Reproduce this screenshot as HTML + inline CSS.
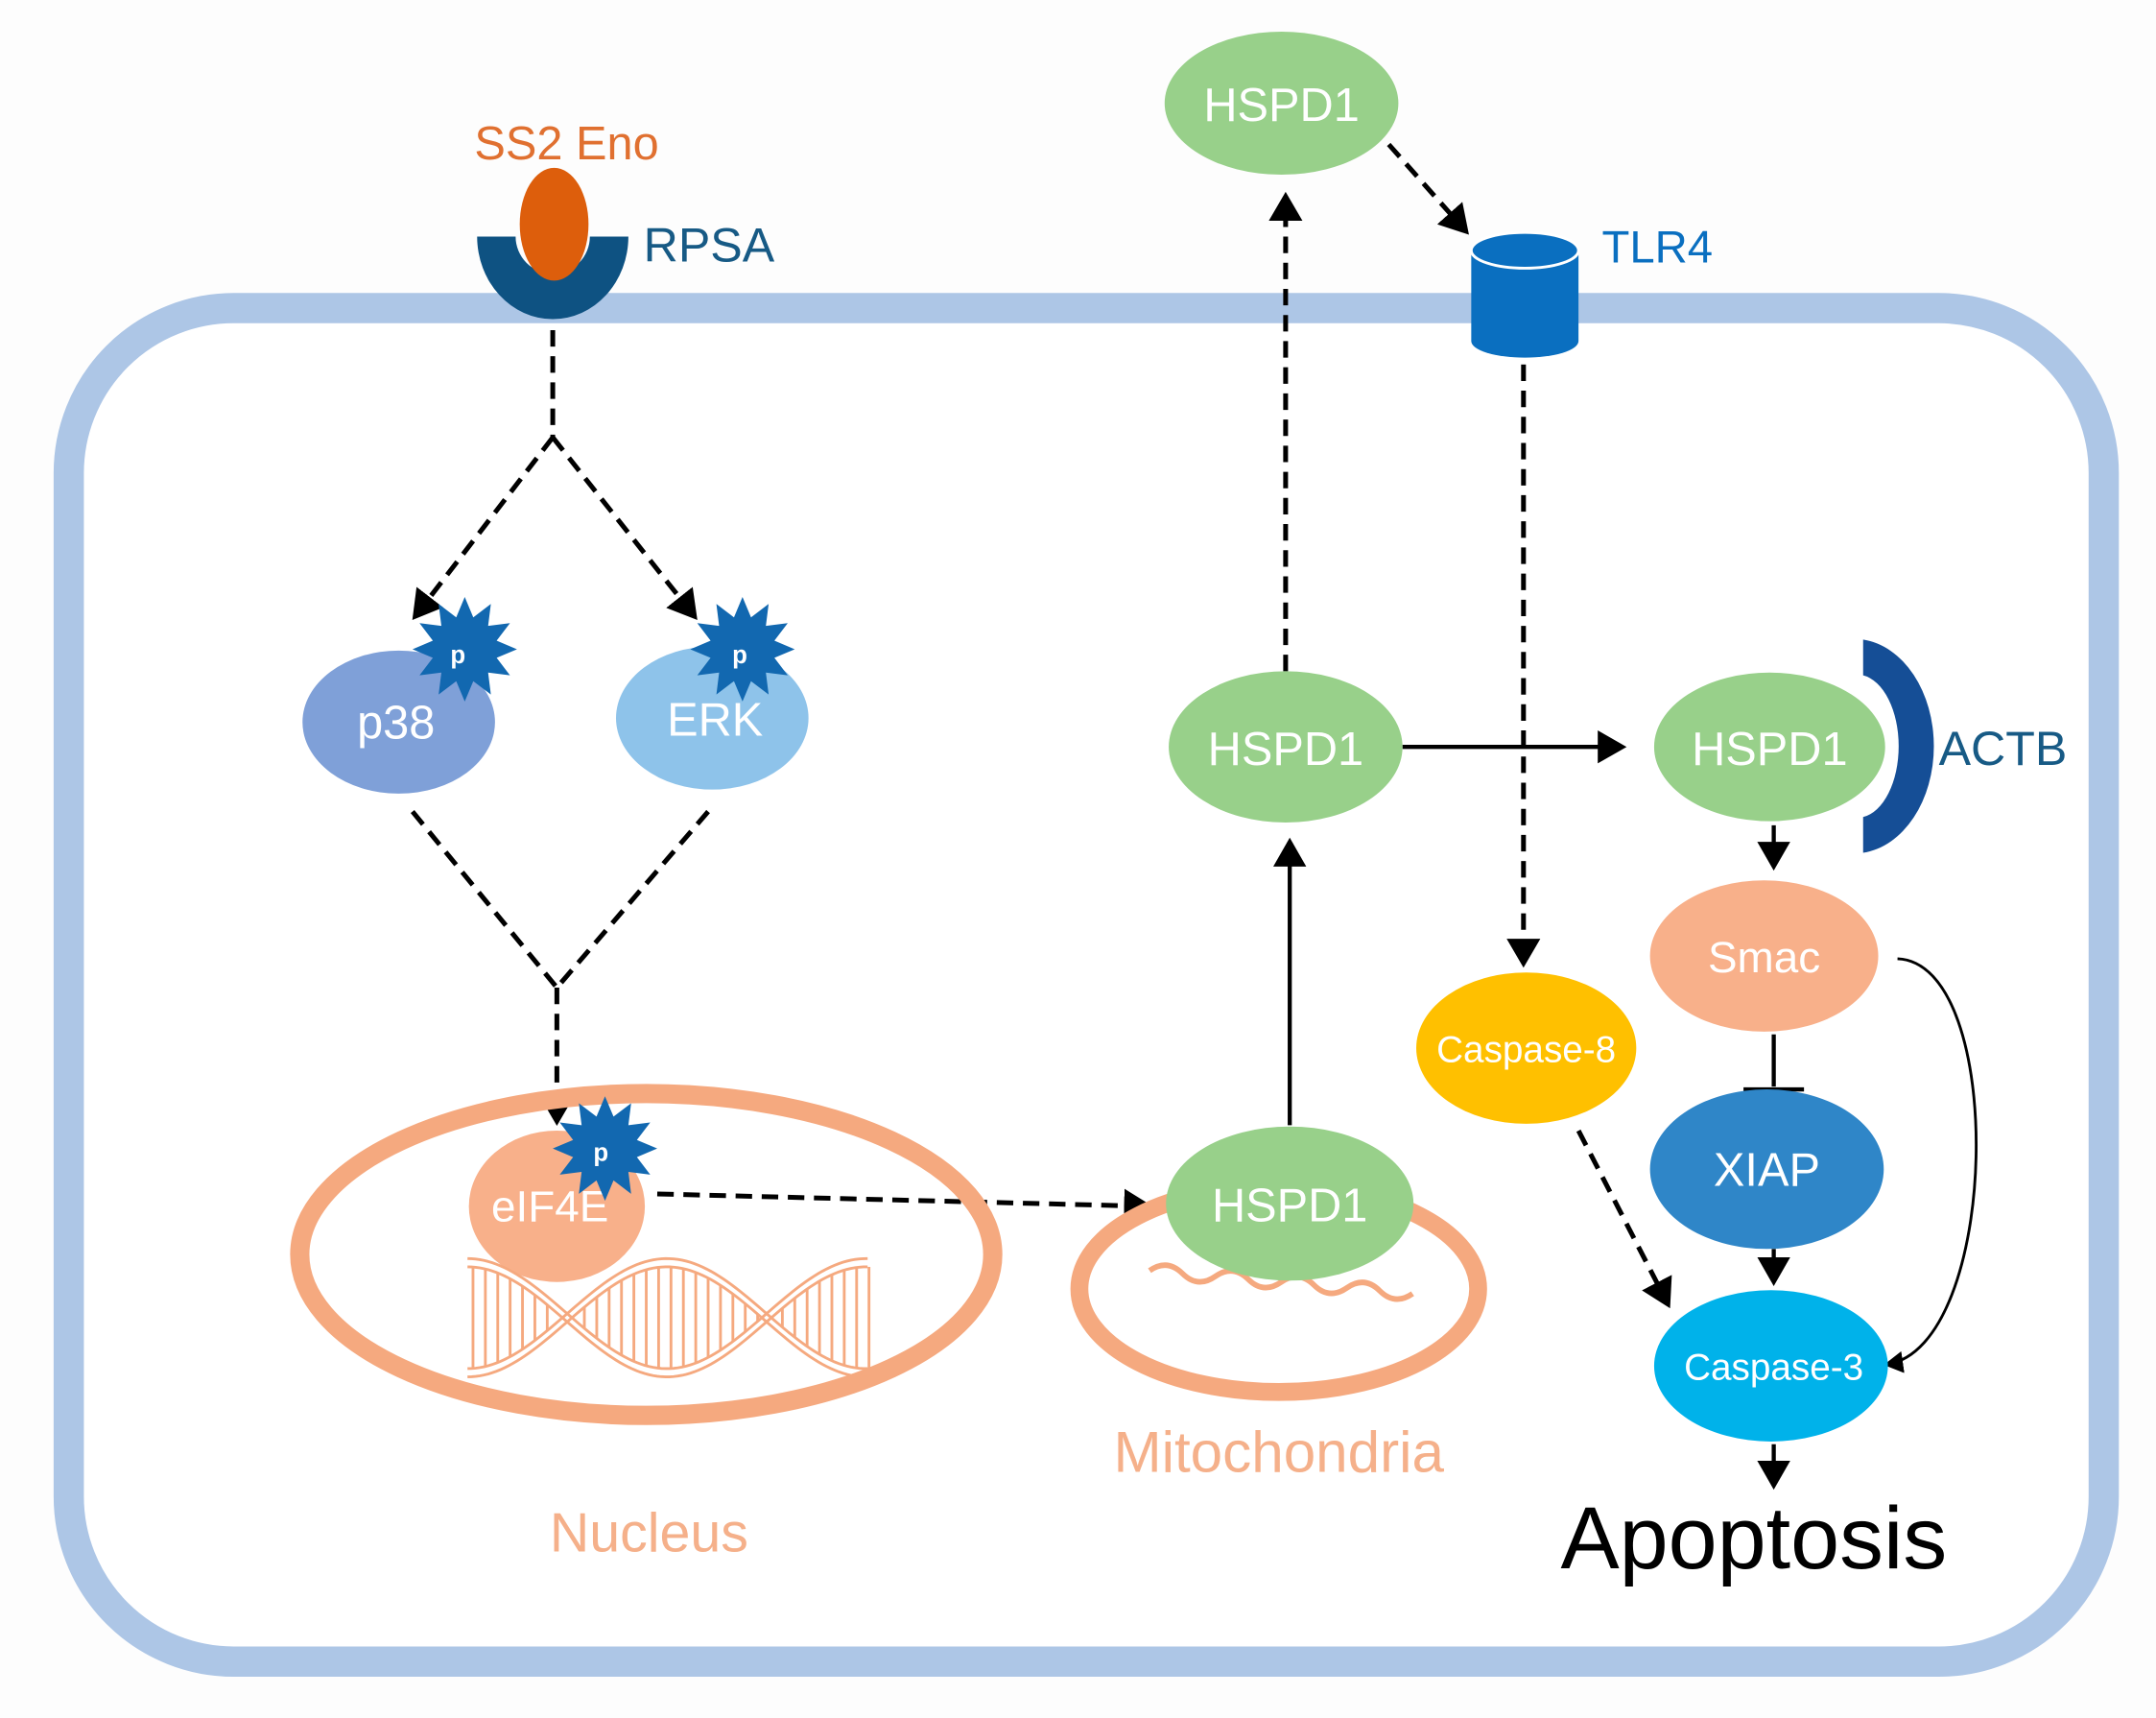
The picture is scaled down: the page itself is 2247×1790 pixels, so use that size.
<!DOCTYPE html>
<html><head><meta charset="utf-8"><style>
html,body{margin:0;padding:0;background:#fdfdfd;}
svg{display:block;}
text{font-family:"Liberation Sans",Arial,sans-serif;}
</style></head><body>
<svg id="s" width="2247" height="1790" viewBox="0 0 1568 1249" preserveAspectRatio="none" xmlns="http://www.w3.org/2000/svg">
<defs>
<marker id="ah" markerWidth="8" markerHeight="8" refX="6" refY="4" orient="auto" markerUnits="strokeWidth"><path d="M0,0 L7,4 L0,8 Z" fill="#000"/></marker>
<marker id="ah2" markerWidth="7" markerHeight="7" refX="5" refY="3.5" orient="auto" markerUnits="strokeWidth"><path d="M0,0 L6,3.5 L0,7 Z" fill="#000"/></marker>
<polygon id="star" fill="#1268b0" points="38,0 23.2,6.2 32.9,19 17,17 19,32.9 6.2,23.2 0,38 -6.2,23.2 -19,32.9 -17,17 -32.9,19 -23.2,6.2 -38,0 -23.2,-6.2 -32.9,-19 -17,-17 -19,-32.9 -6.2,-23.2 0,-38 6.2,-23.2 19,-32.9 17,-17 32.9,-19 23.2,-6.2"/>
</defs>
<rect width="1568" height="1249" fill="#fdfdfd"/>
<rect x="50" y="224" width="1480" height="984" rx="120" fill="#fff" stroke="#adc6e6" stroke-width="22"/>

<text x="345" y="116" font-size="34" fill="#e07030">SS2 Eno</text>
<path d="M347,172 L375,172 A27,27 0 0 0 429,172 L457,172 A55,60 0 0 1 347,172 Z" fill="#0e5282"/>
<ellipse cx="403" cy="163" rx="25" ry="41" fill="#dd5e0c"/>
<text x="468" y="190" font-size="35" fill="#175a85">RPSA</text>

<g stroke="#000" stroke-width="3.5" fill="none" stroke-dasharray="12,7">
<path d="M402,240 L402,318"/>
<path d="M402,318 L302,448" marker-end="url(#ah2)"/>
<path d="M402,318 L505,448" marker-end="url(#ah2)"/>
<path d="M300,590 L405,718"/>
<path d="M515,590 L405,718"/>
<path d="M405,718 L405,815" marker-end="url(#ah2)"/>
<path d="M478,868 L835,877" marker-end="url(#ah2)"/>
<path d="M935,488 L935,143" marker-end="url(#ah2)"/>
<path d="M1010,105 L1066,168" marker-end="url(#ah2)"/>
<path d="M1108,265 L1108,700" marker-end="url(#ah2)"/>
<path d="M1148,822 L1213,948" marker-end="url(#ah2)"/>
</g>

<ellipse cx="290" cy="525" rx="70" ry="52" fill="#7fa0d8"/>
<text x="288" y="537" font-size="34" fill="#fff" text-anchor="middle">p38</text>
<ellipse cx="518" cy="522" rx="70" ry="52" fill="#8ec3ea"/>
<text x="520" y="535" font-size="34" fill="#fff" text-anchor="middle">ERK</text>
<use href="#star" x="338" y="472"/>
<text x="333" y="482" font-size="18" fill="#fff" text-anchor="middle" font-weight="bold">p</text>
<use href="#star" x="540" y="472"/>
<text x="538" y="482" font-size="18" fill="#fff" text-anchor="middle" font-weight="bold">p</text>

<ellipse cx="470" cy="912" rx="252" ry="117" fill="none" stroke="#f5a97f" stroke-width="14"/>
<ellipse cx="405" cy="877" rx="64" ry="55" fill="#f8b08a"/>
<text x="400" y="888" font-size="32" fill="#fff" text-anchor="middle">eIF4E</text>
<use href="#star" x="440" y="835"/>
<text x="437" y="844" font-size="18" fill="#fff" text-anchor="middle" font-weight="bold">p</text>
<g id="dna" fill="none" stroke="#f5a97f" stroke-width="3"></g>
<text x="472" y="1128" font-size="40" fill="#f5b08a" text-anchor="middle">Nucleus</text>

<ellipse cx="930" cy="937" rx="145" ry="75" fill="none" stroke="#f5a97f" stroke-width="13"/>
<path d="M835,932 q12,-10 24,0 t24,0 t24,0 t24,0 t24,0 t24,0 t24,0 t24,0" fill="none" stroke="#f5a97f" stroke-width="4" transform="rotate(5 930 940)"/>
<ellipse cx="938" cy="875" rx="90" ry="56" fill="#98d08a"/>
<text x="938" y="888" font-size="34" fill="#fff" text-anchor="middle">HSPD1</text>
<text x="930" y="1070" font-size="42" fill="#f5b08a" text-anchor="middle">Mitochondria</text>

<g stroke="#000" stroke-width="3" fill="none">
<path d="M938,818 L938,612" marker-end="url(#ah)"/>
<path d="M1020,543 L1180,543" marker-end="url(#ah)"/>
<path d="M1290,600 L1290,630" marker-end="url(#ah)"/>
<path d="M1290,752 L1290,790"/>
<path d="M1268,792 L1312,792"/>
<path d="M1290,908 L1290,932" marker-end="url(#ah)"/>
<path d="M1290,1050 L1290,1080" marker-end="url(#ah)"/>
<path d="M1380,697 C1460,700 1455,980 1372,992" stroke-width="2" marker-end="url(#ah)"/>
</g>

<ellipse cx="935" cy="543" rx="85" ry="55" fill="#98d08a"/>
<text x="935" y="556" font-size="34" fill="#fff" text-anchor="middle">HSPD1</text>
<ellipse cx="932" cy="75" rx="85" ry="52" fill="#98d08a"/>
<text x="932" y="88" font-size="34" fill="#fff" text-anchor="middle">HSPD1</text>

<path d="M1070,182 L1070,248 A39,12 0 0 0 1148,248 L1148,182 Z" fill="#0a6fc0"/>
<ellipse cx="1109" cy="182" rx="39" ry="13" fill="#0a6fc0" stroke="#fff" stroke-width="2"/>
<text x="1165" y="191" font-size="33" fill="#0a6fc0">TLR4</text>

<path d="M1355,465 A58,78 0 0 1 1355,620 L1355,594 A30,52 0 0 0 1355,491 Z" fill="#154e96"/>
<ellipse cx="1287" cy="543" rx="85" ry="55" fill="#98d08a" stroke="#fff" stroke-width="2"/>
<text x="1287" y="556" font-size="34" fill="#fff" text-anchor="middle">HSPD1</text>
<text x="1410" y="556" font-size="35" fill="#175a85">ACTB</text>

<ellipse cx="1283" cy="695" rx="83" ry="55" fill="#f8b08a"/>
<text x="1283" y="707" font-size="32" fill="#fff" text-anchor="middle">Smac</text>
<ellipse cx="1285" cy="850" rx="85" ry="58" fill="#2f86c8"/>
<text x="1285" y="862" font-size="34" fill="#fff" text-anchor="middle">XIAP</text>
<ellipse cx="1288" cy="993" rx="85" ry="55" fill="#00b2ea"/>
<text x="1290" y="1003" font-size="27" fill="#fff" text-anchor="middle">Caspase-3</text>
<ellipse cx="1110" cy="762" rx="80" ry="55" fill="#ffc000"/>
<text x="1110" y="772" font-size="27" fill="#fff" text-anchor="middle">Caspase-8</text>

<text x="1135" y="1140" font-size="64" fill="#000">Apoptosis</text>
</svg>
<script>
(function(){
var g=document.getElementById('dna');var ns='http://www.w3.org/2000/svg';
var x0=340,x1=633,cy=958,A=40,P=290;
function y(x,s){return cy+s*A*Math.cos(2*Math.PI*(x-x0)/P);}
for(var s of [-1,1]){for(var off of [-3,3]){var d='';for(var x=x0;x<=x1;x+=3){d+=(x==x0?'M':'L')+x+','+(y(x,s)+off);}var p=document.createElementNS(ns,'path');p.setAttribute('d',d);p.setAttribute('stroke-width','2');g.appendChild(p);}}
for(var x=x0+4;x<x1;x+=9){var a=y(x,-1),b=y(x,1);if(Math.abs(a-b)<10)continue;var l=document.createElementNS(ns,'line');l.setAttribute('x1',x);l.setAttribute('x2',x);l.setAttribute('y1',Math.min(a,b)+3);l.setAttribute('y2',Math.max(a,b)-3);l.setAttribute('stroke-width','2');g.appendChild(l);}
})();
</script>
</body></html>
